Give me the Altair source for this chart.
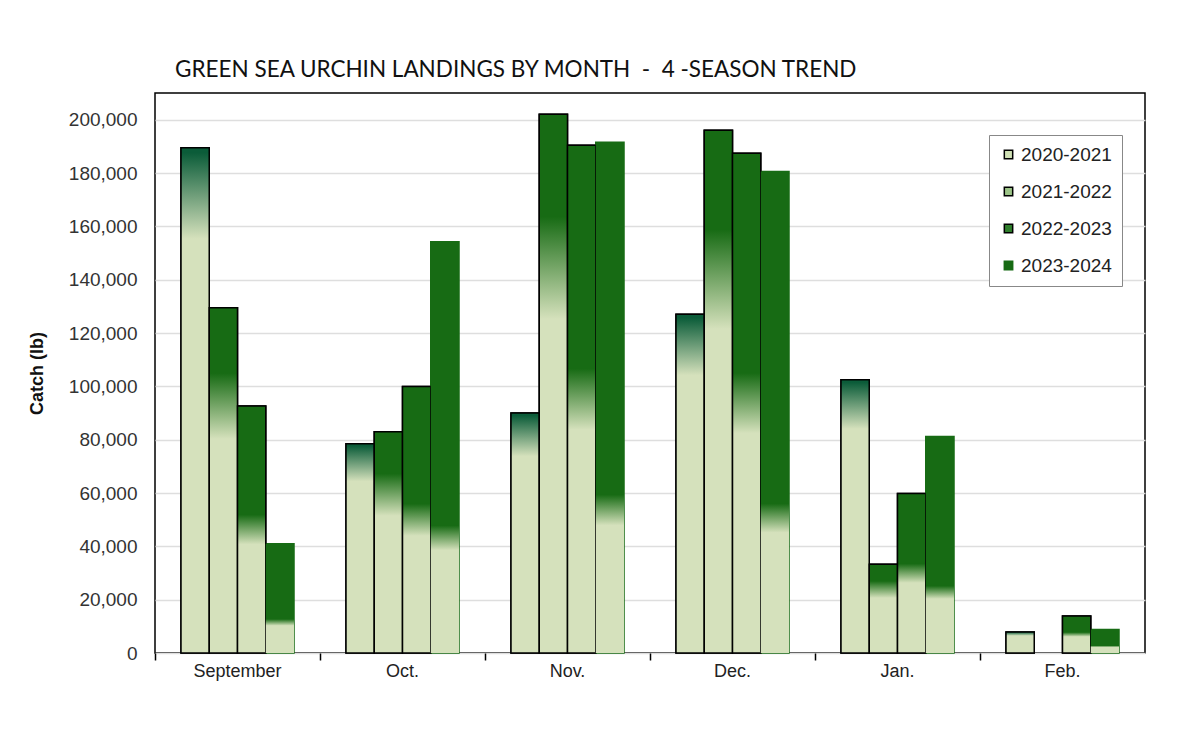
import altair as alt
import pandas as pd

months = ["September", "Oct.", "Nov.", "Dec.", "Jan.", "Feb."]
seasons = ["2020-2021", "2021-2022", "2022-2023", "2023-2024"]
s2020_2021 = [189500, 78500, 90000, 127000, 102500, 7900]
s2021_2022 = [129500, 83000, 202000, 196000, 33300, None]
s2022_2023 = [92600, 99900, 190400, 187400, 59800, 13900]
s2023_2024 = [41000, 154200, 191500, 180600, 81200, 8800]
series = [s2020_2021, s2021_2022, s2022_2023, s2023_2024]

rows = []
for season, vals in zip(seasons, series):
    for m, v in zip(months, vals):
        if v is not None:
            rows.append({"month": m, "season": season, "value": v})
df = pd.DataFrame(rows)

LIGHT = "#d5e1bc"
DARK = "#176b14"
TEAL = "#0b5c39"

# gradient stop positions (fraction of bar height from bottom)
grad_stops = {
    "2020-2021": [(0, LIGHT), (0.82, LIGHT), (0.99, TEAL), (1, TEAL)],
    "2021-2022": [(0, LIGHT), (0.62, LIGHT), (0.81, DARK), (1, DARK)],
    "2022-2023": [(0, LIGHT), (0.44, LIGHT), (0.56, DARK), (1, DARK)],
    "2023-2024": [(0, LIGHT), (0.25, LIGHT), (0.31, DARK), (1, DARK)],
}
legend_fill = ["#cfe0b4", "#9cc487", "#2f7f2b", DARK]
legend_stroke = ["black", "black", "black", DARK]

FONT = "Liberation Sans"

x_enc_ticks = alt.X(
    "month:N", sort=months,
    scale=alt.Scale(paddingInner=0, paddingOuter=0),
    axis=alt.Axis(bandPosition=0, labels=False, ticks=True, tickSize=7, tickWidth=1.5,
                  tickColor="black", domain=False, grid=False, title=None, orient="bottom"),
)
x_enc_labels = alt.X(
    "month:N", sort=months,
    scale=alt.Scale(paddingInner=0, paddingOuter=0),
    axis=alt.Axis(labels=True, ticks=False, domain=False, grid=False, title=None, labelAngle=0,
                  labelFont=FONT, labelFontSize=18, labelColor="#222", labelPadding=9,
                  orient="bottom"),
)
xoff = alt.XOffset("season:N", scale=alt.Scale(domain=seasons, paddingOuter=0.92, paddingInner=0))
y_axis = alt.Axis(values=list(range(0, 200001, 20000)), format=",d", grid=True,
                  gridColor="#dedede", gridWidth=1.5, ticks=False, domain=False,
                  labelFont=FONT, labelFontSize=19, labelColor="#333", labelPadding=18,
                  title="Catch (lb)", titleFont=FONT, titleFontSize=18, titleFontWeight="bold",
                  titleColor="#111", titleAngle=-90, titleX=-118, titleY=280,
                  titleAlign="center", titleBaseline="middle")
y_scale = alt.Scale(domain=[0, 210000], nice=False)

legend_props = dict(
    title=None, orient="none", legendX=834, legendY=42, symbolType="square",
    symbolSize=70, symbolStrokeWidth=1.5, labelFont=FONT, labelFontSize=19,
    labelColor="#222", rowPadding=17, padding=10, strokeColor="#888",
    fillColor="white", labelOffset=3,
)

base = alt.Chart(df)

legend_layer = base.mark_bar(strokeWidth=1.5).encode(
    x=x_enc_ticks,
    xOffset=xoff,
    y=alt.Y("value:Q", scale=y_scale, axis=y_axis),
    color=alt.Color("season:N", scale=alt.Scale(domain=seasons, range=legend_fill),
                    legend=alt.Legend(**legend_props)),
    stroke=alt.Stroke("season:N", scale=alt.Scale(domain=seasons, range=legend_stroke),
                      legend=alt.Legend(**legend_props)),
)

layers = [legend_layer]
for i, season in enumerate(seasons):
    grad = alt.Gradient(
        gradient="linear", x1=0, x2=0, y1=1, y2=0,
        stops=[alt.GradientStop(offset=o, color=c) for o, c in grad_stops[season]],
    )
    if season == "2023-2024":
        mk = base.mark_bar(fill=grad, strokeWidth=0)
    else:
        mk = base.mark_bar(fill=grad, stroke="black", strokeWidth=1.5)
    layer = mk.encode(
        x=x_enc_labels if i == 0 else alt.X("month:N", sort=months, axis=None),
        xOffset=xoff,
        y=alt.Y("value:Q", scale=y_scale, axis=y_axis),
    ).transform_filter(alt.datum.season == season)
    layers.append(layer)

title_text = "GREEN SEA URCHIN LANDINGS BY MONTH\u00a0\u00a0-\u00a0\u00a04 -SEASON TREND"

chart = alt.layer(*layers).resolve_axis(x="independent").properties(
    width=990, height=560,
    autosize=alt.AutoSizeParams(type="none"),
    padding={"left": 147, "top": 85, "right": 26, "bottom": 90},
    title=alt.Title(title_text, frame="group",
                    anchor="start", dx=20, fontSize=22.5, font="Lato", fontWeight="normal",
                    color="#111", offset=12),
).configure_view(stroke="black", strokeWidth=1.5)

chart.save("out.html", embed_options={"renderer": "svg", "actions": False})
